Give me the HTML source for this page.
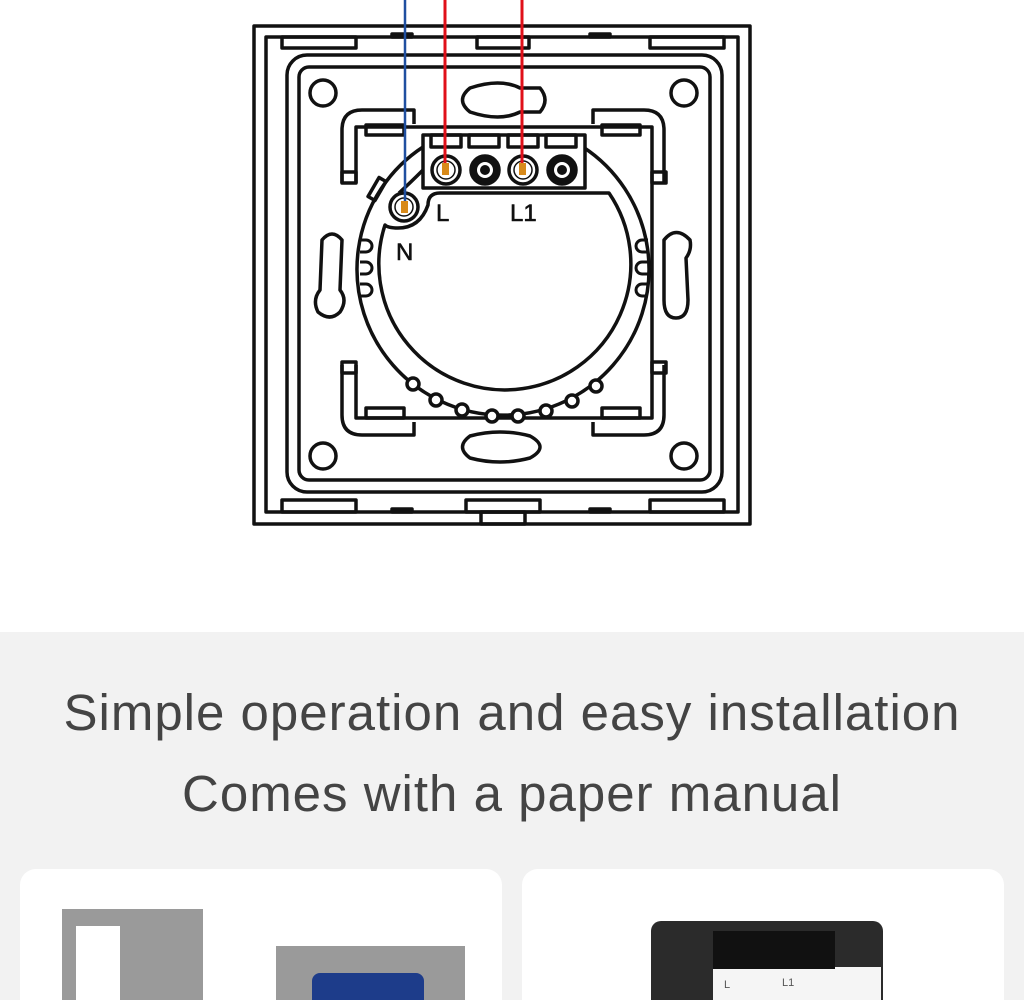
<!DOCTYPE html>
<html><head><meta charset="utf-8"><style>
html,body{margin:0;padding:0;width:1024px;height:1000px;overflow:hidden;background:#fff;font-family:"Liberation Sans",sans-serif;position:relative}
.gray{position:absolute;left:0;top:632px;width:1024px;height:368px;background:#f2f2f2}
.t{position:absolute;left:0;width:1024px;text-align:center;color:#444;font-size:51px;letter-spacing:1px}
.card{position:absolute;top:869px;height:131px;background:#fff;border-radius:16px 16px 0 0;overflow:hidden}
</style></head><body>
<svg width="1024" height="632" style="position:absolute;left:0;top:0" fill="none" stroke="#111" stroke-width="3.5" stroke-linejoin="round">
<rect x="254" y="26" width="496" height="498"/>
<rect x="266" y="37" width="472" height="475"/>
<rect x="282" y="37" width="74" height="11"/><rect x="477" y="37" width="52" height="11"/><rect x="650" y="37" width="74" height="11"/>
<rect x="282" y="500" width="74" height="12"/><rect x="466" y="500" width="74" height="12"/><rect x="481" y="512" width="44" height="12"/>
<rect x="650" y="500" width="74" height="12"/>
<rect x="392" y="34" width="20" height="3" fill="#111"/><rect x="590" y="34" width="20" height="3" fill="#111"/>
<rect x="392" y="509" width="20" height="3" fill="#111"/><rect x="590" y="509" width="20" height="3" fill="#111"/>
<rect x="287" y="55" width="435" height="437" rx="20"/>
<rect x="299" y="67" width="411" height="413" rx="10"/>
<circle cx="323" cy="93" r="13"/><circle cx="684" cy="93" r="13"/><circle cx="323" cy="456" r="13"/><circle cx="684" cy="456" r="13"/>
<path d="M470,88 Q500,78 520,88 L540,88 Q550,100 540,112 L520,112 Q500,122 470,112 Q455,100 470,88Z"/>
<path d="M470,436 Q500,428 530,436 Q550,447 530,458 Q500,466 470,458 Q455,447 470,436Z"/>
<path d="M322,240 Q332,228 342,240 L340,290 Q348,300 340,312 Q330,322 318,312 Q312,300 320,290Z"/>
<path d="M664,240 Q676,225 690,240 Q692,250 686,258 L688,300 Q688,318 676,318 Q664,318 664,300Z"/>
<path d="M342,183 L342,130 Q342,110 362,110 L414,110 L414,124"/>
<path d="M664,183 L664,130 Q664,110 644,110 L593,110 L593,124"/>
<path d="M342,365 L342,415 Q342,435 362,435 L414,435 L414,422"/>
<path d="M664,365 L664,415 Q664,435 644,435 L593,435 L593,422"/>
<rect x="366" y="125" width="38" height="10"/><rect x="602" y="125" width="38" height="10"/>
<rect x="366" y="408" width="38" height="10"/><rect x="602" y="408" width="38" height="10"/>
<rect x="342" y="172" width="14" height="11"/><rect x="652" y="172" width="14" height="11"/>
<rect x="342" y="362" width="14" height="11"/><rect x="652" y="362" width="14" height="11"/>
<path d="M356,183 L356,127 L652,127 L652,418 L356,418 L356,365"/>
<path d="M423,147 A146 146 0 1 0 583,147" fill="#fff"/>
<path d="M399,193 Q410,183 423,170" />
<rect x="423" y="135" width="162" height="53" fill="#fff"/>
<rect x="431" y="135" width="30" height="12"/><rect x="469" y="135" width="30" height="12"/><rect x="508" y="135" width="30" height="12"/><rect x="546" y="135" width="30" height="12"/>
<path d="M428,205 Q428,193 440,193 L609,193 A126 126 0 1 1 385,225 Q388,228 398,228 Q420,228 428,205Z" fill="#fff"/>
<rect x="373" y="178" width="8" height="22" transform="rotate(30 377 189)"/>
<g stroke-width="3">
<path d="M360,240 h6 a6,6 0 0 1 0,12 h-6"/><path d="M360,262 h6 a6,6 0 0 1 0,12 h-6"/><path d="M360,284 h6 a6,6 0 0 1 0,12 h-6"/>
<path d="M648,240 h-6 a6,6 0 0 0 0,12 h6"/><path d="M648,262 h-6 a6,6 0 0 0 0,12 h6"/><path d="M648,284 h-6 a6,6 0 0 0 0,12 h6"/>
</g>
<g fill="#fff">
<circle cx="413" cy="384" r="6"/><circle cx="436" cy="400" r="6"/><circle cx="462" cy="410" r="6"/><circle cx="492" cy="416" r="6"/>
<circle cx="518" cy="416" r="6"/><circle cx="546" cy="411" r="6"/><circle cx="572" cy="401" r="6"/><circle cx="596" cy="386" r="6"/>
</g>
<circle cx="446" cy="170" r="14"/><circle cx="485" cy="170" r="14" fill="#111"/><circle cx="523" cy="170" r="14"/><circle cx="562" cy="170" r="14" fill="#111"/>
<circle cx="446" cy="170" r="9" stroke-width="1.5"/><circle cx="523" cy="170" r="9" stroke-width="1.5"/>
<circle cx="485" cy="170" r="8" fill="#fff" stroke="none"/><circle cx="562" cy="170" r="8" fill="#fff" stroke="none"/>
<circle cx="485" cy="170" r="5" fill="#111" stroke="none"/><circle cx="562" cy="170" r="5" fill="#111" stroke="none"/>
<circle cx="404" cy="207" r="14"/><circle cx="404" cy="207" r="9" stroke-width="1.5"/>
<line x1="405" y1="0" x2="405" y2="204" stroke="#1f4fa0" stroke-width="2.5"/>
<line x1="445" y1="0" x2="445" y2="167" stroke="#e0101a" stroke-width="3"/>
<line x1="522" y1="0" x2="522" y2="167" stroke="#e0101a" stroke-width="3"/>
<rect x="442" y="163" width="7" height="12" fill="#d88a1a" stroke="none"/>
<rect x="519" y="163" width="7" height="12" fill="#d88a1a" stroke="none"/>
<rect x="401" y="201" width="7" height="12" fill="#d88a1a" stroke="none"/>
<g fill="#111" stroke="#111" stroke-width="0.6" font-family="Liberation Sans,sans-serif" font-size="24">
<text x="436" y="221">L</text><text x="510" y="221">L1</text><text x="396" y="260">N</text>
</g>
</svg>
<div class="gray"></div>
<div class="t" style="top:683px">Simple operation and easy installation</div>
<div class="t" style="top:764px">Comes with a paper manual</div>
<div class="card" style="left:20px;width:482px">
<div style="position:absolute;left:42px;top:40px;width:141px;height:100px;background:#9a9a9a"></div>
<div style="position:absolute;left:56px;top:57px;width:44px;height:100px;background:#fff"></div>
<div style="position:absolute;left:256px;top:77px;width:189px;height:90px;background:#9a9a9a"></div>
<div style="position:absolute;left:292px;top:104px;width:112px;height:60px;background:#1d3c8a;border-radius:8px 8px 0 0"></div>
</div>
<div class="card" style="left:522px;width:482px">
<div style="position:absolute;left:129px;top:52px;width:232px;height:120px;background:#2b2b2b;border-radius:10px 10px 0 0"></div>
<div style="position:absolute;left:191px;top:98px;width:168px;height:80px;background:#f5f5f5"></div>
<div style="position:absolute;left:191px;top:62px;width:122px;height:38px;background:#111"></div>
<div style="position:absolute;left:202px;top:110px;font-size:11px;color:#555">L</div>
<div style="position:absolute;left:260px;top:108px;font-size:11px;color:#555">L1</div>
</div>
</body></html>
